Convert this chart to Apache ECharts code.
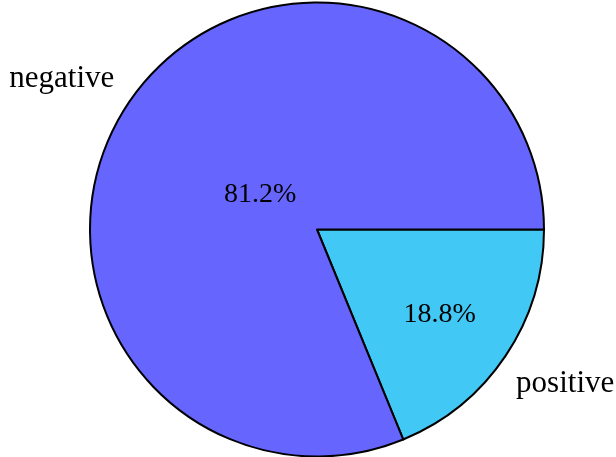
<!DOCTYPE html>
<html>
<head>
<meta charset="utf-8">
<script src="https://cdn.jsdelivr.net/npm/echarts@6/dist/echarts.min.js"></script>
<style>
html,body{margin:0;padding:0;background:#fff;}
#chart{width:616px;height:457px;}
</style>
</head>
<body>
<div id="chart"></div>
<script>
const categories = ['positive', 'negative'];
const values = [18.8, 81.2];
const colors = ['#42C8F4', '#6666FF'];

// label nudges (styling only)
const pctNudge = [[26, 20], [40, 30]];
const nameNudge = [[-1, -13], [-6, 16]];

const FONT = '"Liberation Serif", "DejaVu Serif", serif';
const data = categories.map((c, i) => ({ name: c, value: values[i], itemStyle: { color: colors[i] } }));

const chart = echarts.init(document.getElementById('chart'));
chart.setOption({
  animation: false,
  series: [
    {
      type: 'pie',
      center: [317, 229.5],
      radius: [0, 227],
      startAngle: 0,
      clockwise: true,
      silent: true,
      data: data,
      itemStyle: { borderColor: '#000', borderWidth: 2 },
      label: {
        show: true,
        position: 'inside',
        formatter: p => p.value.toFixed(1) + '%',
        color: '#000',
        fontFamily: FONT,
        fontSize: 28
      },
      labelLine: { show: false },
      labelLayout: p => ({ dx: pctNudge[p.dataIndex][0], dy: pctNudge[p.dataIndex][1] })
    },
    {
      type: 'pie',
      center: [317, 229.5],
      radius: [0, 594],
      startAngle: 0,
      clockwise: true,
      silent: true,
      z: 1,
      data: categories.map((c, i) => ({ name: c, value: values[i] })),
      itemStyle: { color: 'rgba(0,0,0,0)', borderWidth: 0 },
      label: {
        show: true,
        position: 'inside',
        formatter: '{b}',
        color: '#000',
        fontFamily: FONT,
        fontSize: 31
      },
      labelLine: { show: false },
      labelLayout: p => ({ dx: nameNudge[p.dataIndex][0], dy: nameNudge[p.dataIndex][1] })
    }
  ]
});
</script>
</body>
</html>
